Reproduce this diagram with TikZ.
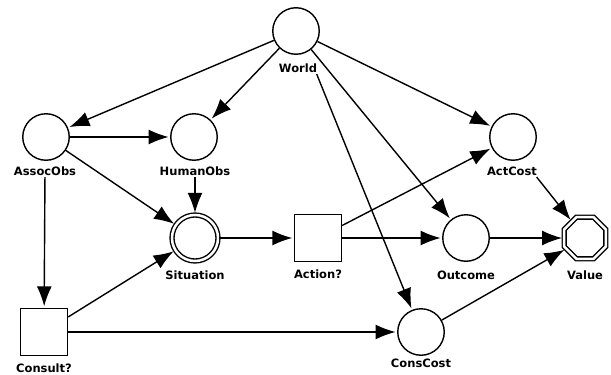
\documentclass[tikz,border=0pt]{standalone}
\usepackage{fontspec}
\setsansfont{DejaVu Sans}
\usetikzlibrary{arrows.meta,shapes.geometric}
\tikzset{
  chance/.style={draw, circle, minimum size=46.5pt, inner sep=0pt},
  decision/.style={draw, rectangle, minimum size=47pt, inner sep=0pt},
  determ/.style={draw, circle, double, double distance=2.5pt, minimum size=46pt, inner sep=0pt},
  utility/.style={draw, regular polygon, regular polygon sides=8, double, double distance=2.5pt, minimum size=45pt, inner sep=0pt},
  lbl/.style={font=\sffamily\bfseries\fontsize{11.5}{12}\selectfont, inner sep=1pt},
  infl/.style={-{Latex[length=20pt,width=15pt]}, shorten >=1.5pt},
}
\begin{document}
\begin{tikzpicture}[x=1pt, y=-1pt, line width=1.4pt]
      \useasboundingbox (0,0) rectangle (611,375);

      % nodes
      \node [chance] (world) at (296,31) {};
      \node [lbl] (worldl) at (298,68) {World};
      \node [chance] (assoc) at (46,137) {};
      \node [lbl] (assocl) at (45,171) {AssocObs};
      \node [chance] (human) at (194,137) {};
      \node [lbl] (humanl) at (195,171) {HumanObs};
      \node [chance] (actcost) at (513,137) {};
      \node [lbl] (actcostl) at (512,171) {ActCost};
      \node [determ] (situation) at (195,238) {};
      \node [lbl] (situationl) at (195,275) {Situation};
      \node [decision] (action) at (318,238) {};
      \node [lbl] (actionl) at (318,274) {Action?};
      \node [chance] (outcome) at (466,238) {};
      \node [lbl] (outcomel) at (466,275) {Outcome};
      \node [utility] (value) at (585,238) {};
      \node [lbl] (valuel) at (585,275) {Value};
      \node [decision] (consult) at (44,332) {};
      \node [lbl] (consultl) at (44,368) {Consult?};
      \node [chance] (conscost) at (421,332) {};
      \node [lbl] (conscostl) at (421,363) {ConsCost};

      % influences
      \draw [infl] (world) -- (assoc);
      \draw [infl] (world) -- (human);
      \draw [infl] (world) -- (actcost);
      \draw [infl] (world) -- (outcome);
      \draw [infl] ([xshift=-2pt]worldl.south east) -- (conscost);
      \draw [infl] (assoc) -- (human);
      \draw [infl] (assoc) -- (situation);
      \draw [infl] (assocl) -- (consult);
      \draw [infl] (humanl) -- (situation);
      \draw [infl] (consult) -- (situation);
      \draw [infl] (consult) -- (conscost);
      \draw [infl] (situation) -- (action);
      \draw [infl] (action) -- (actcost);
      \draw [infl] (action) -- (outcome);
      \draw [infl] (outcome) -- (value);
      \draw [infl] ([xshift=-2pt]actcostl.south east) -- (value);
      \draw [infl] (conscost) -- (value);
\end{tikzpicture}
\end{document}
